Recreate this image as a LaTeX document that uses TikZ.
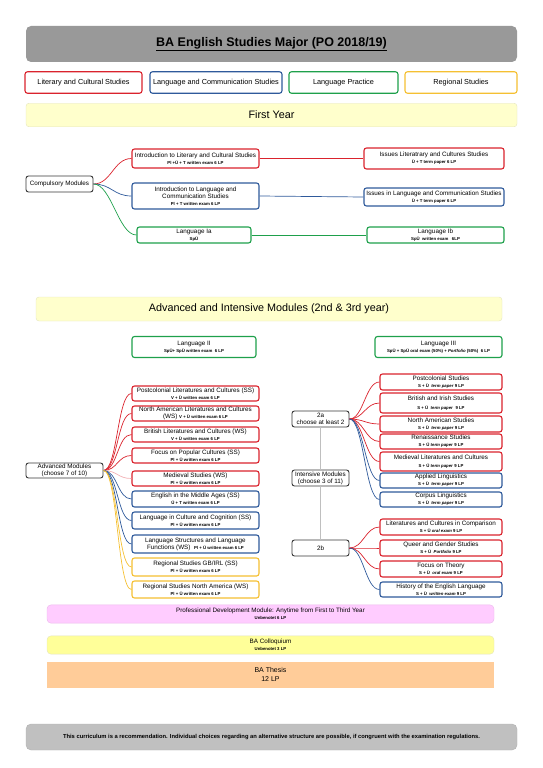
\documentclass[tikz,border=0pt]{standalone}
\usepackage{fontspec}
\setmainfont{Liberation Sans}
\definecolor{litred}{RGB}{218,35,45}
\definecolor{lingblue}{RGB}{47,90,155}
\definecolor{pracgreen}{RGB}{30,160,75}
\definecolor{regyellow}{RGB}{245,192,50}
\definecolor{hubgray}{RGB}{55,55,55}
\definecolor{bandfill}{RGB}{255,255,204}
\definecolor{bandline}{RGB}{228,228,190}
\definecolor{headgray}{RGB}{153,153,153}
\definecolor{footgray}{RGB}{192,192,192}
\definecolor{profpink}{RGB}{255,204,255}
\definecolor{profline}{RGB}{235,185,235}
\definecolor{collyellow}{RGB}{255,255,153}
\definecolor{thesisorange}{RGB}{255,204,153}
\newcommand{\examinfo}[1]{{\fontsize{4.3}{5}\selectfont\bfseries #1}}
\tikzset{
    module/.style = {
        draw,
        rounded corners=2.5pt,
        line width=1.1pt,
        fill=white,
        align=center,
        inner sep=0.5pt,
        font=\fontsize{6.3}{6.9}\selectfont},
    litmod/.style = {
        module,
        draw=litred},
    lingmod/.style = {
        module,
        draw=lingblue},
    pracmod/.style = {
        module,
        draw=pracgreen},
    regmod/.style = {
        module,
        draw=regyellow},
    hub/.style = {
        module,
        draw=hubgray,
        line width=0.9pt},
    legend/.style = {
        module,
        minimum height=21.5pt,
        font=\fontsize{7.3}{8}\selectfont},
    band/.style = {
        rounded corners=3pt,
        draw=bandline,
        fill=bandfill,
        font=\fontsize{10.8}{12}\selectfont},
    banner/.style = {
        rounded corners=4pt,
        align=center,
        minimum width=447pt,
        font=\fontsize{6.3}{7}\selectfont},
    branch/.style = {
        line width=0.7pt}
}

\begin{document}
\begin{tikzpicture}[
    x                       = 1pt,
    y                       = -1pt
]
\useasboundingbox (0,0) rectangle (543,768);

% header and legend
\node (head) [rounded corners=5pt, fill=headgray, minimum width=491pt, minimum height=36pt,
    font=\fontsize{12.5}{14}\selectfont\bfseries] at (271.5,44)
    {\underline{BA English Studies Major (PO 2018/19)}};
\node (keylit)  [legend, draw=litred,     minimum width=117pt] at (83.5,82.5)  {Literary and Cultural Studies};
\node (keyling) [legend, draw=lingblue,   minimum width=132pt] at (216,82.5)   {Language and Communication Studies};
\node (keyprac) [legend, draw=pracgreen,  minimum width=109pt] at (343.5,82.5) {Language Practice};
\node (keyreg)  [legend, draw=regyellow,  minimum width=112pt] at (461,82.5)   {Regional Studies};

% first year
\node (firstyear) [band, minimum width=491pt, minimum height=23.5pt] at (271.5,115) {First Year};

\node (compulsory) [hub, minimum width=67pt, minimum height=16pt] at (59.5,184) {Compulsory Modules};
\node (introlit) [litmod, minimum width=127pt, minimum height=19pt] at (195.5,158.5)
    {Introduction to Literary and Cultural Studies\\\examinfo{Pl +Ü + T written exam 6 LP}};
\node (introling) [lingmod, minimum width=127pt, minimum height=26pt] at (195.5,196)
    {Introduction to Language and\\Communication Studies\\\examinfo{Pl + T written exam 6 LP}};
\node (langIa) [pracmod, minimum width=114pt, minimum height=16pt] at (194,235)
    {Language Ia\\\examinfo{SpÜ}};
\node (issueslit) [litmod, minimum width=140pt, minimum height=21pt] at (434,158.5)
    {Issues Literatrary and Cultures Studies\\\examinfo{Ü + T term paper 6 LP}};
\node (issuesling) [lingmod, minimum width=140pt, minimum height=18pt] at (434,197)
    {Issues in Language and Communication Studies\\\examinfo{Ü + T term paper 6 LP}};
\node (langIb) [pracmod, minimum width=137pt, minimum height=16pt] at (435.5,235)
    {Language Ib\\\examinfo{SpÜ\ \ written exam \ \ 6LP}};

\draw [branch, litred]    (compulsory.east) .. controls +(18,0) and +(-18,0) .. (introlit.west);
\draw [branch, lingblue]  (compulsory.east) .. controls +(18,0) and +(-18,0) .. (introling.west);
\draw [branch, pracgreen] (compulsory.east) .. controls +(18,0) and +(-18,0) .. (langIa.west);
\draw [branch, litred]    (introlit) -- (issueslit);
\draw [branch, lingblue]  (introling.east) -- (issuesling.west);
\draw [branch, pracgreen] (langIa) -- (langIb);

% second and third year
\node (advanced) [band, minimum width=466pt, minimum height=24pt] at (269,309)
    {Advanced and Intensive Modules (2nd \& 3rd year)};
\node (langII) [pracmod, minimum width=124pt, minimum height=21pt] at (194,347)
    {Language II\\\examinfo{SpÜ+ SpÜ written exam \ 6 LP}};
\node (langIII) [pracmod, minimum width=127pt, minimum height=21pt] at (438.5,347)
    {Language III\\\examinfo{SpÜ + SpÜ oral exam (50\%) + \textit{Portfolio} (50\%) \ 6 LP}};

% advanced modules
\node (advhub) [hub, minimum width=77pt, minimum height=15pt] at (64.5,470.5)
    {Advanced Modules\\(choose 7 of 10)};
\node (adv1) [litmod, minimum width=127pt, minimum height=15pt] at (195.5,393.5)
    {Postcolonial Literatures and Cultures (SS)\\\examinfo{V + Ü written exam 6 LP}};
\node (adv2) [litmod, minimum width=127pt, minimum height=15pt] at (195.5,413.5)
    {North American Literatures and Cultures\\(WS) \examinfo{V + Ü written exam 6 LP}};
\node (adv3) [litmod, minimum width=127pt, minimum height=15pt] at (195.5,434.5)
    {British Literatures and Cultures (WS)\\\examinfo{V + Ü written exam 6 LP}};
\node (adv4) [litmod, minimum width=127pt, minimum height=15pt] at (195.5,455.5)
    {Focus on Popular Cultures (SS)\\\examinfo{Pl + Ü written exam 6 LP}};
\node (adv5) [litmod, minimum width=127pt, minimum height=15pt] at (195.5,478.5)
    {Medieval Studies (WS)\\\examinfo{Pl + Ü written exam 6 LP}};
\node (adv6) [lingmod, minimum width=127pt, minimum height=16pt] at (195.5,499)
    {English in the Middle Ages (SS)\\\examinfo{Ü + T written exam 6 LP}};
\node (adv7) [lingmod, minimum width=127pt, minimum height=17pt] at (195.5,520.5)
    {Language in Culture and Cognition (SS)\\\examinfo{Pl + Ü written exam 6 LP}};
\node (adv8) [lingmod, minimum width=127pt, minimum height=18pt] at (195.5,544)
    {Language Structures and Language\\Functions (WS) \ \examinfo{Pl + Ü written exam 6 LP}};
\node (adv9) [regmod, minimum width=127pt, minimum height=18pt] at (195.5,567)
    {Regional Studies GB/IRL (SS)\\\examinfo{Pl + Ü written exam 6 LP}};
\node (adv10) [regmod, minimum width=127pt, minimum height=17pt] at (195.5,589.5)
    {Regional Studies North America (WS)\\\examinfo{Pl + Ü written exam 6 LP}};

\draw [branch, litred]      (advhub.east) .. controls +(14,0) and +(-14,0) .. (adv1.west);
\draw [branch, litred]      (advhub.east) .. controls +(14,0) and +(-14,0) .. (adv2.west);
\draw [branch, litred]      (advhub.east) .. controls +(14,0) and +(-14,0) .. (adv3.west);
\draw [branch, litred]      (advhub.east) .. controls +(14,0) and +(-14,0) .. (adv4.west);
\draw [branch, litred!35]   (advhub.east) .. controls +(14,0) and +(-14,0) .. (adv5.west);
\draw [branch, lingblue]    (advhub.east) .. controls +(14,0) and +(-14,0) .. (adv6.west);
\draw [branch, lingblue]    (advhub.east) .. controls +(14,0) and +(-14,0) .. (adv7.west);
\draw [branch, lingblue]    (advhub.east) .. controls +(14,0) and +(-14,0) .. (adv8.west);
\draw [branch, regyellow]   (advhub.east) .. controls +(14,0) and +(-14,0) .. (adv9.west);
\draw [branch, regyellow]   (advhub.east) .. controls +(14,0) and +(-14,0) .. (adv10.west);

% intensive modules
\node (twoa) [hub, minimum width=57pt, minimum height=16pt] at (320.5,419) {2a\\choose at least 2};
\node (inthub) [hub, minimum width=57pt, minimum height=16pt] at (320.5,478) {Intensive Modules\\(choose 3 of 11)};
\node (twob) [hub, minimum width=57pt, minimum height=16pt] at (320.5,548) {2b};

\node (int1) [litmod, minimum width=122pt, minimum height=16pt] at (441,382)
    {Postcolonial Studies\\\examinfo{S + Ü \ \textit{term paper} 9 LP}};
\node (int2) [litmod, minimum width=122pt, minimum height=20pt] at (441,403)
    {British and Irish Studies\\[1.5pt]\examinfo{S + Ü \ \textit{term paper} \ 9 LP}};
\node (int3) [litmod, minimum width=122pt, minimum height=16pt] at (441,424)
    {North American Studies\\\examinfo{S + Ü \ \textit{term paper} 9 LP}};
\node (int4) [litmod, minimum width=122pt, minimum height=15pt] at (441,441.5)
    {Renaissance Studies\\\examinfo{S + Ü \textit{term paper} 9 LP}};
\node (int5) [litmod, minimum width=122pt, minimum height=19pt] at (441,461.5)
    {Medieval Literatures and Cultures\\[1.5pt]\examinfo{S + Ü \textit{term paper} 9 LP}};
\node (int6) [lingmod, minimum width=122pt, minimum height=15pt] at (441,480.5)
    {Applied Linguistics\\\examinfo{S + Ü \ \textit{term paper} 9 LP}};
\node (int7) [lingmod, minimum width=122pt, minimum height=15pt] at (441,499.5)
    {Corpus Linguistics\\\examinfo{S + Ü \ \textit{term paper} 9 LP}};
\node (int8) [litmod, minimum width=122pt, minimum height=16pt] at (441,527)
    {Literatures and Cultures in Comparison\\\examinfo{S + Ü \textit{oral exam} 9 LP}};
\node (int9) [litmod, minimum width=122pt, minimum height=16pt] at (441,548)
    {Queer and Gender Studies\\\examinfo{S + Ü \ \textit{Portfolio} 9 LP}};
\node (int10) [litmod, minimum width=122pt, minimum height=16pt] at (441,569)
    {Focus on Theory\\\examinfo{S + Ü \ \textit{oral exam} 9 LP}};
\node (int11) [lingmod, minimum width=122pt, minimum height=15pt] at (441,589.5)
    {History of the English Language\\\examinfo{S + Ü \ \textit{written exam} 9 LP}};

\draw [line width=0.6pt, black!25] (twoa) -- (inthub);
\draw [line width=0.6pt, black!25] (inthub) -- (twob);

\draw [branch, litred]   (twoa.east) .. controls +(14,0) and +(-14,0) .. (int1.west);
\draw [branch, litred]   (twoa.east) .. controls +(14,0) and +(-14,0) .. (int2.west);
\draw [branch, litred]   (twoa.east) .. controls +(14,0) and +(-14,0) .. (int3.west);
\draw [branch, litred]   (twoa.east) .. controls +(14,0) and +(-14,0) .. (int4.west);
\draw [branch, litred]   (twoa.east) .. controls +(14,0) and +(-14,0) .. (int5.west);
\draw [branch, lingblue] (twoa.east) .. controls +(14,0) and +(-14,0) .. (int6.west);
\draw [branch, lingblue] (twoa.east) .. controls +(14,0) and +(-14,0) .. (int7.west);
\draw [branch, litred]   (twob.east) .. controls +(14,0) and +(-14,0) .. (int8.west);
\draw [branch, litred]   (twob.east) .. controls +(14,0) and +(-14,0) .. (int9.west);
\draw [branch, litred]   (twob.east) .. controls +(14,0) and +(-14,0) .. (int10.west);
\draw [branch, lingblue] (twob.east) .. controls +(14,0) and +(-14,0) .. (int11.west);

% other modules
\node (profdev) [banner, fill=profpink, draw=profline, minimum height=18pt] at (270.5,614)
    {Professional Development Module: Anytime from First to Third Year\\\examinfo{Unbenotet 6 LP}};
\node (colloq) [banner, fill=collyellow, draw=bandline, minimum height=18pt] at (270.5,645)
    {BA Colloquium\\\examinfo{Unbenotet 3 LP}};
\node (thesis) [banner, rounded corners=0pt, fill=thesisorange, minimum height=26pt,
    font=\fontsize{7}{8.5}\selectfont] at (270.5,674.5)
    {BA Thesis\\12 LP};

% footer
\node (foot) [rounded corners=5pt, fill=footgray, draw=black!30, minimum width=491pt, minimum height=26pt,
    font=\fontsize{5.8}{7}\selectfont\bfseries] at (271.5,737)
    {This curriculum is a recommendation. Individual choices regarding an alternative structure are possible, if congruent with the examination regulations.};

\end{tikzpicture}
\end{document}
